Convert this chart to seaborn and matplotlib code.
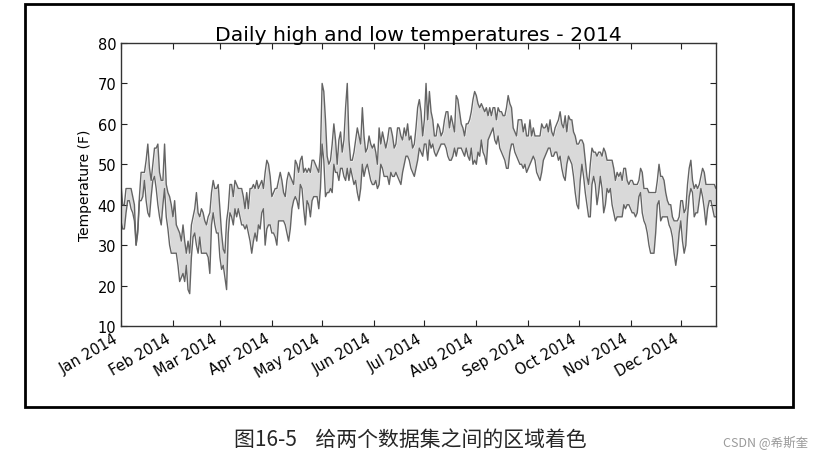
import pandas as pd
import numpy as np
import matplotlib
matplotlib.use("Agg")
import matplotlib.pyplot as plt
import matplotlib.dates as mdates
from matplotlib.patches import Rectangle
import seaborn as sns

# temperaturas diarias (F), desde el 1 de enero de 2014
highs = [
    45, 40, 40, 44, 44, 44, 44, 42, 40, 30,
    34, 42, 48, 48, 48, 51, 55, 49, 46, 50,
    54, 54, 55, 48, 46, 46, 55, 45, 43, 42,
    40, 37, 41, 35, 34, 33, 31, 35, 31, 28,
    31, 28, 35, 37, 39, 43, 38, 37, 39, 38,
    36, 35, 37, 38, 43, 46, 44, 44, 45, 39,
    33, 29, 28, 36, 39, 45, 45, 42, 46, 45,
    44, 44, 44, 42, 39, 43, 39, 44, 44, 45,
    44, 46, 44, 45, 46, 44, 48, 51, 50, 47,
    42, 43, 44, 44, 46, 48, 46, 43, 42, 46,
    48, 47, 46, 45, 51, 50, 48, 51, 52, 48,
    49, 48, 49, 48, 51, 51, 50, 49, 48, 53,
    70, 68, 61, 52, 50, 51, 55, 60, 56, 50,
    56, 58, 53, 56, 64, 70, 56, 51, 51, 53,
    56, 59, 57, 55, 64, 57, 53, 54, 57, 55,
    54, 55, 53, 50, 59, 55, 58, 56, 54, 56,
    59, 59, 57, 54, 55, 59, 59, 57, 56, 59,
    57, 60, 56, 57, 54, 55, 59, 64, 66, 63,
    57, 61, 70, 61, 68, 63, 61, 57, 57, 60,
    59, 57, 58, 61, 63, 63, 59, 62, 60, 58,
    67, 66, 63, 60, 59, 57, 60, 60, 61, 63,
    66, 68, 67, 65, 64, 65, 64, 63, 64, 62,
    64, 62, 64, 64, 61, 64, 63, 63, 62, 62,
    64, 67, 65, 64, 59, 58, 57, 61, 61, 61,
    58, 60, 57, 57, 61, 57, 59, 57, 57, 57,
    57, 60, 59, 59, 60, 58, 61, 58, 57, 59,
    60, 61, 63, 60, 59, 62, 58, 62, 61, 61,
    58, 57, 55, 55, 56, 56, 55, 51, 47, 45,
    50, 54, 53, 53, 52, 53, 53, 52, 54, 53,
    51, 51, 51, 51, 49, 46, 48, 47, 48, 46,
    49, 49, 46, 45, 46, 46, 45, 45, 45, 46,
    49, 48, 44, 44, 44, 43, 43, 43, 43, 43,
    46, 50, 47, 47, 46, 43, 41, 40, 40, 37,
    36, 36, 36, 37, 41, 41, 38, 39, 45, 49,
    51, 46, 44, 45, 44, 45, 47, 49, 48, 45,
    45, 45, 45, 45, 45, 44,
]
lows = [
    36, 34, 34, 38, 41, 41, 39, 38, 36, 30,
    33, 41, 41, 42, 46, 41, 38, 37, 42, 46,
    47, 44, 40, 37, 35, 40, 44, 37, 34, 30,
    28, 28, 28, 28, 25, 21, 22, 23, 21, 25,
    19, 18, 27, 32, 33, 30, 28, 32, 28, 28,
    28, 28, 27, 23, 35, 38, 35, 33, 33, 27,
    24, 25, 22, 19, 33, 38, 37, 35, 39, 37,
    39, 37, 35, 35, 34, 35, 33, 31, 28, 31,
    33, 31, 35, 34, 38, 39, 30, 34, 35, 35,
    33, 33, 32, 30, 36, 36, 36, 36, 35, 33,
    31, 34, 39, 41, 42, 41, 39, 45, 44, 39,
    35, 41, 40, 37, 41, 42, 42, 42, 39, 44,
    55, 51, 42, 43, 43, 44, 43, 50, 48, 48,
    46, 49, 49, 47, 46, 49, 46, 49, 47, 45,
    46, 43, 41, 44, 50, 47, 49, 50, 48, 46,
    45, 45, 46, 44, 45, 50, 49, 47, 47, 47,
    45, 48, 47, 47, 48, 47, 46, 45, 48, 50,
    52, 52, 51, 49, 48, 47, 49, 51, 54, 53,
    52, 55, 55, 51, 56, 54, 55, 53, 52, 53,
    54, 55, 55, 55, 54, 52, 51, 51, 52, 54,
    52, 54, 54, 54, 53, 52, 54, 52, 51, 54,
    50, 51, 50, 53, 52, 56, 53, 52, 50, 56,
    57, 58, 59, 56, 55, 57, 54, 53, 52, 51,
    49, 49, 53, 55, 55, 53, 52, 51, 50, 50,
    49, 50, 48, 49, 50, 51, 52, 51, 48, 47,
    46, 48, 51, 52, 53, 54, 54, 52, 52, 53,
    53, 51, 52, 49, 47, 46, 50, 52, 51, 50,
    47, 43, 40, 39, 46, 50, 47, 43, 40, 37,
    37, 45, 47, 45, 40, 43, 47, 44, 38, 40,
    44, 43, 44, 40, 38, 36, 37, 37, 37, 37,
    40, 39, 40, 40, 39, 38, 38, 37, 38, 42,
    43, 38, 36, 35, 33, 30, 28, 28, 28, 33,
    40, 41, 36, 37, 37, 37, 37, 35, 34, 32,
    28, 25, 28, 33, 36, 31, 28, 30, 37, 42,
    44, 43, 37, 38, 38, 41, 44, 42, 39, 35,
    39, 41, 41, 39, 37, 37,
]
y_ticks = [10, 20, 30, 40, 50, 60, 70, 80]
title = "Daily high and low temperatures - 2014"
y_label = "Temperature (F)"
caption = "图16-5    给两个数据集之间的区域着色"
watermark = "CSDN @希斯奎"

dates = pd.date_range("2014-01-01", periods=len(highs), freq="D")
df = pd.DataFrame({"date": dates, "high": highs, "low": lows})

sns.set_style("ticks")
plt.rcParams["font.family"] = ["DejaVu Sans", "Noto Sans CJK SC"]

fig = plt.figure(figsize=(8.14, 4.60), dpi=100)
ax = fig.add_axes([121 / 814, 1 - 327 / 460, 595 / 814, 283 / 460])

line_c = "#646464"
sns.lineplot(data=df, x="date", y="high", ax=ax, color=line_c, linewidth=1.0)
sns.lineplot(data=df, x="date", y="low", ax=ax, color=line_c, linewidth=1.0)
ax.fill_between(df["date"], df["high"], df["low"], facecolor="#d9d9d9", zorder=0)

ax.set_xlim(dates[0], dates[-1])
ax.set_ylim(10, 80)
ax.set_yticks(y_ticks)
ax.xaxis.set_major_locator(mdates.MonthLocator())
ax.xaxis.set_major_formatter(mdates.DateFormatter("%b %Y"))
ax.tick_params(direction="in", top=True, right=True, length=4, width=0.8,
               labelsize=10.5, colors="#222222", labelcolor="black")
for lab in ax.get_xticklabels():
    lab.set_rotation(30)
    lab.set_ha("right")
for s in ax.spines.values():
    s.set_color("#333333")
    s.set_linewidth(1.0)

ax.set_title(title, fontsize=14.7, pad=2, color="black")
ax.set_xlabel("")
ax.set_ylabel(y_label, fontsize=10, labelpad=4, color="black")

# marco exterior y pie de figura
fig.patches.append(Rectangle((25 / 814, 1 - 408 / 460), 768 / 814, 403 / 460,
                             transform=fig.transFigure, fill=False,
                             edgecolor="black", linewidth=2))
fig.text(410 / 814, 1 - 440 / 460, caption, ha="center", va="center",
         fontsize=15, family=["Noto Sans CJK SC", "DejaVu Sans"])
fig.text(808 / 814, 1 - 443 / 460, watermark, ha="right", va="center",
         fontsize=9, color="#9a9a9a", family=["Noto Sans CJK SC", "DejaVu Sans"])

fig.savefig("out.png", dpi=100)
